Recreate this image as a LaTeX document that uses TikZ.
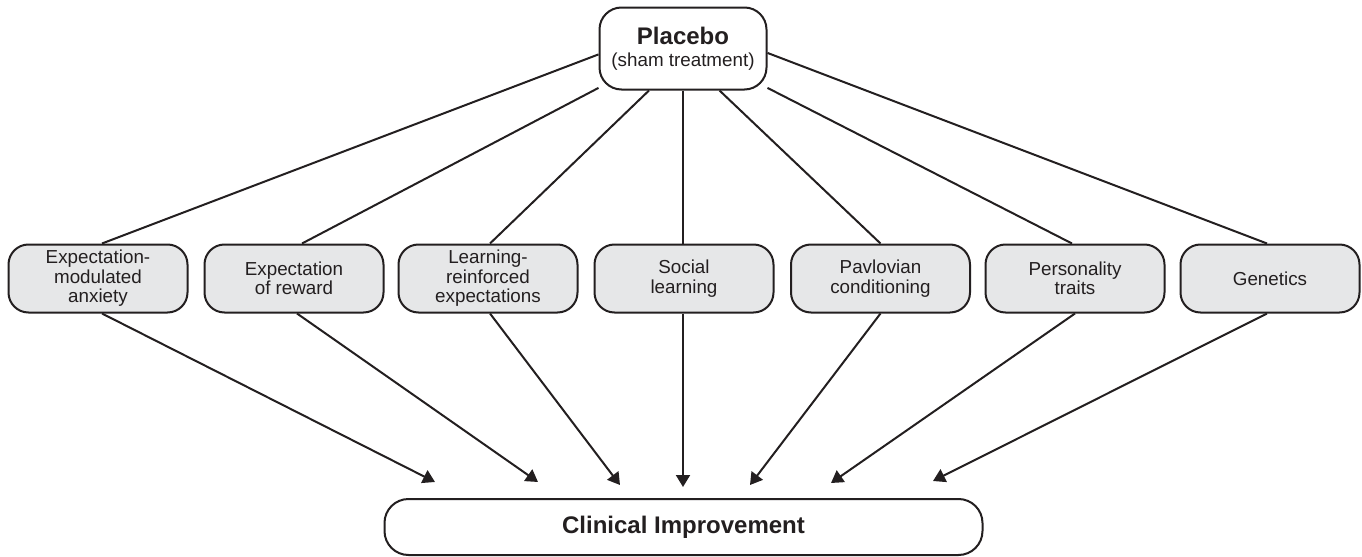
\documentclass[tikz,border=0pt]{standalone}
\usepackage{fontspec}
\setmainfont{Liberation Sans}
\usetikzlibrary{arrows.meta,calc}
\definecolor{ink}{HTML}{231F20}
\definecolor{boxfill}{HTML}{E6E7E8}
\begin{document}
\begin{tikzpicture}[x=0.5pt,y=-0.5pt,
  every node/.style={text=ink},
  factor/.style={draw=ink,line width=1pt,fill=boxfill,rounded corners=10pt,
    minimum width=89.5pt,minimum height=34pt,inner sep=0pt,align=center,
    font=\fontsize{9.4}{9.7}\selectfont},
  topbox/.style={draw=ink,line width=1pt,fill=white,rounded corners=11pt,
    minimum width=83.5pt,minimum height=41pt,inner sep=0pt,align=center},
  goalbox/.style={draw=ink,line width=1pt,fill=white,rounded corners=12pt,
    minimum width=299pt,minimum height=28pt,inner sep=0pt,
    font=\fontsize{12}{14}\selectfont\bfseries},
  link/.style={draw=ink,line width=1pt},
  effect/.style={link,-{Triangle[length=6pt,width=7pt]}}
]
\useasboundingbox (0,0) rectangle (1362,557);

% source of all pathways
\node[topbox] (p) at (683,48.5)
  {{\fontsize{12}{13}\selectfont\bfseries Placebo}\\[-1pt]
   {\fontsize{9.4}{11}\selectfont (sham treatment)}};

% mediating factors
\node[factor] (b1) at (98,278.5)   {Expectation-\\modulated\\anxiety};
\node[factor] (b2) at (294,278.5)  {Expectation\\of reward};
\node[factor] (b3) at (488,278.5)  {Learning-\\reinforced\\expectations};
\node[factor] (b4) at (684,278.5)  {Social\\learning};
\node[factor] (b5) at (880.5,278.5){Pavlovian\\conditioning};
\node[factor] (b6) at (1075,278.5) {Personality\\traits};
\node[factor] (b7) at (1270,278.5) {Genetics};

% outcome
\node[goalbox] (g) at (683.5,527) {Clinical Improvement};

% arrow tips stop short of the outcome box
\coordinate (t1) at (435,482);
\coordinate (t2) at (538,482);
\coordinate (t3) at (620,485);
\coordinate (t4) at (683,487);
\coordinate (t5) at (750,485);
\coordinate (t6) at (831,483);
\coordinate (t7) at (933,481);

% placebo to factors
\draw[link] (p.184)   -- ([xshift=2pt]b1.north);
\draw[link] (p.205)   -- ([xshift=4pt]b2.north);
\draw[link] (p.231.5) -- ([xshift=1pt]b3.north);
\draw[link] (p.south) -- (p.south |- b4.north);
\draw[link] (p.311)   -- (b5.north);
\draw[link] (p.335.8) -- ([xshift=-1.5pt]b6.north);
\draw[link] (p.357)   -- ([xshift=-1.5pt]b7.north);

% factors to outcome
\draw[effect] ([xshift=2pt]b1.south)   -- (t1);
\draw[effect] ([xshift=1.5pt]b2.south) -- (t2);
\draw[effect] ([xshift=1pt]b3.south)   -- (t3);
\draw[effect] (t4 |- b4.south)         -- (t4);
\draw[effect] (b5.south)               -- (t5);
\draw[effect] (b6.south)               -- (t6);
\draw[effect] ([xshift=-1.5pt]b7.south) -- (t7);
\end{tikzpicture}
\end{document}
